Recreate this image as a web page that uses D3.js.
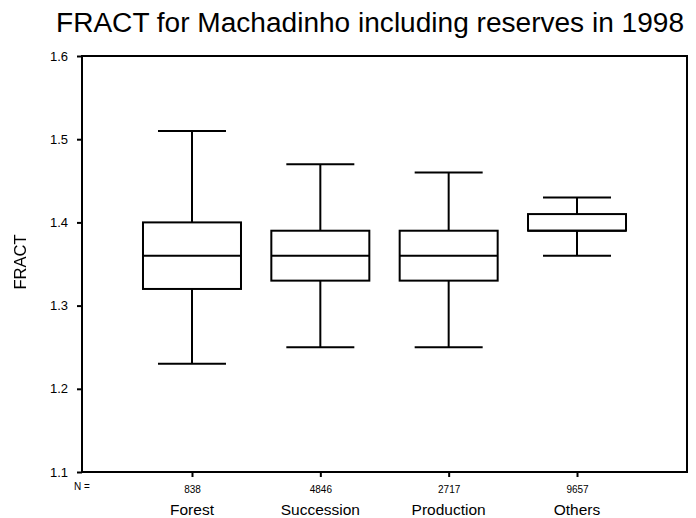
<!DOCTYPE html>
<html><head><meta charset="utf-8">
<script src="https://cdn.jsdelivr.net/npm/d3@7"></script>
<style>body{margin:0;background:#fff;} svg{display:block;font-family:"Liberation Sans",Arial,sans-serif;}</style>
</head><body>
<svg id="c" width="696" height="518"></svg>
<script>
const categories = ["Forest", "Succession", "Production", "Others"];
const counts = ["838", "4846", "2717", "9657"];
const whiskerLow = [1.23, 1.25, 1.25, 1.36];
const q1 = [1.32, 1.33, 1.33, 1.39];
const median = [1.36, 1.36, 1.36, 1.39];
const q3 = [1.40, 1.39, 1.39, 1.41];
const whiskerHigh = [1.51, 1.47, 1.46, 1.43];
const yTicks = [1.1, 1.2, 1.3, 1.4, 1.5, 1.6];

const svg = d3.select("#c");
const L = 82, R = 687, T = 56, B = 472;
const x = d3.scalePoint().domain(categories).range([L, R]).padding(0.857);
const y = d3.scaleLinear().domain([1.1, 1.6]).range([B, T]);

const defs = svg.append("defs");
defs.append("filter").attr("id", "gray")
  .append("feColorMatrix").attr("type", "saturate").attr("values", 0);

svg.append("text").attr("x", 370).attr("y", 32).attr("text-anchor", "middle")
  .attr("font-size", 27).attr("textLength", 628).attr("lengthAdjust", "spacingAndGlyphs")
  .text("FRACT for Machadinho including reserves in 1998");

// frame
svg.append("rect").attr("x", L).attr("y", T).attr("width", R - L).attr("height", B - T)
  .attr("fill", "none").attr("stroke", "#000").attr("stroke-width", 2);

// y axis
const ya = svg.append("g").attr("transform", `translate(${L},0)`)
  .call(d3.axisLeft(y).tickValues(yTicks).tickFormat(d3.format(".1f")).tickSize(5).tickPadding(9));
ya.select(".domain").remove();
ya.selectAll("line").attr("stroke-width", 2);
ya.selectAll("text").attr("font-size", 13).attr("fill", "#000").attr("font-family", "Liberation Sans, Arial, sans-serif");

// x axis ticks with counts
const xa = svg.append("g").attr("transform", `translate(0,${B})`)
  .call(d3.axisBottom(x).tickSize(5).tickFormat((d, i) => counts[i]).tickPadding(9));
xa.select(".domain").remove();
xa.selectAll("line").attr("stroke-width", 2);
xa.selectAll("text").attr("font-size", 10).attr("fill", "#000").attr("font-family", "Liberation Sans, Arial, sans-serif");

svg.append("text").attr("x", 82).attr("y", 490).attr("text-anchor", "middle")
  .attr("font-size", 10).text("N =");

categories.forEach(c => {
  svg.append("text").attr("x", x(c)).attr("y", 515).attr("text-anchor", "middle")
    .attr("font-size", 15.5).text(c);
});

svg.append("g").attr("filter", "url(#gray)")
  .append("text").attr("transform", `translate(26,${(T + B) / 2 - 2}) rotate(-90)`)
  .attr("text-anchor", "middle").attr("font-size", 16.5).attr("fill", "#000")
  .text("FRACT");

const boxW = 98, capW = 68;
const g = svg.append("g").attr("stroke", "#000").attr("stroke-width", 2).attr("fill", "none");
categories.forEach((c, i) => {
  const cx = x(c);
  g.append("line").attr("x1", cx).attr("x2", cx).attr("y1", y(whiskerHigh[i])).attr("y2", y(q3[i]));
  g.append("line").attr("x1", cx).attr("x2", cx).attr("y1", y(q1[i])).attr("y2", y(whiskerLow[i]));
  g.append("line").attr("x1", cx - capW / 2).attr("x2", cx + capW / 2).attr("y1", y(whiskerHigh[i])).attr("y2", y(whiskerHigh[i]));
  g.append("line").attr("x1", cx - capW / 2).attr("x2", cx + capW / 2).attr("y1", y(whiskerLow[i])).attr("y2", y(whiskerLow[i]));
  g.append("rect").attr("x", cx - boxW / 2).attr("y", y(q3[i])).attr("width", boxW).attr("height", y(q1[i]) - y(q3[i])).attr("fill", "#fff");
  g.append("line").attr("x1", cx - boxW / 2).attr("x2", cx + boxW / 2).attr("y1", y(median[i])).attr("y2", y(median[i]));
});
</script>
</body></html>
